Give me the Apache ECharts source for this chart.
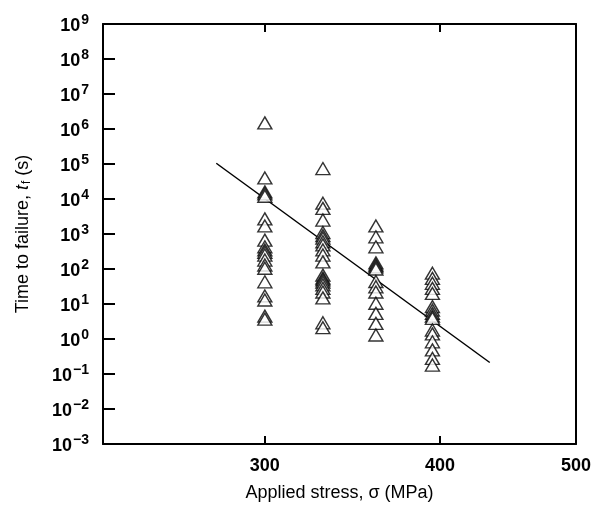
<!DOCTYPE html>
<html>
<head>
<meta charset="utf-8">
<script src="https://cdn.jsdelivr.net/npm/echarts@6.0.0/dist/echarts.min.js"></script>
<style>
  html, body { margin: 0; padding: 0; background: #fff; }
  #chart { width: 602px; height: 510px; }
</style>
</head>
<body>
<div id="chart"></div>
<script>
// stress levels (MPa) and measured times to failure (s) for each level
const stressLevels = [300, 330, 360, 395];
const times300 = [1.5e6, 4e4, 1.6e4, 1.4e4, 1.2e4, 2.7e3, 1.7e3, 670, 430, 350, 300, 250, 180, 130, 105, 43, 17, 13, 4.5, 3.7];
const times330 = [7.4e4, 7.6e3, 5.4e3, 2.5e3, 1.1e3, 900, 760, 600, 490, 350, 250, 160, 67, 55, 49, 42, 35, 28, 22, 15, 2.9, 2.1];
const times360 = [1.7e3, 830, 430, 150, 130, 115, 100, 44, 31, 22, 10.5, 5.4, 2.8, 1.3];
const times395 = [76, 54, 39, 28, 20, 8.4, 6.7, 5.4, 4.5, 3.9, 1.8, 1.4, 0.83, 0.49, 0.28, 0.18];

// fitted line end points
const fitStress = [277, 434];
const fitTime = [1.05e5, 0.213];

// axis ranges and ticks
const xMin = 230;
const xMax = 500;
const xTicks = [300, 400, 500];
const xTickMarks = [300, 400];
const yMin = 1e-3;
const yMax = 1e9;
const yTickMarks = [1e-2, 1e-1, 1e0, 1e1, 1e2, 1e3, 1e4, 1e5, 1e6, 1e7, 1e8];

const groups = [times300, times330, times360, times395];
const points = [];
groups.forEach((arr, i) => {
  arr.forEach(t => points.push([stressLevels[i], t]));
});

// inside tick marks: [x, y, side]  side 0 = left edge, 1 = bottom edge, 2 = top edge
const tickData = [];
yTickMarks.forEach(v => tickData.push([xMin, v, 0]));
xTickMarks.forEach(v => {
  tickData.push([v, yMin, 1]);
  tickData.push([v, yMax, 2]);
});

const chart = echarts.init(document.getElementById('chart'));

const font = 'Liberation Sans, Arial, sans-serif';

function powLabel(v) {
  const e = Math.round(Math.log10(v));
  return '{b|10}{e|' + String(e).replace('-', '\u2212') + '}';
}

function frameAxis(position, min, max) {
  return {
    type: 'log', logBase: 10, min: min, max: max, position: position,
    axisLine: { lineStyle: { color: '#000', width: 2 } },
    axisTick: { show: false },
    axisLabel: { show: false },
    splitLine: { show: false }
  };
}

function renderTick(params, api) {
  const p = api.coord([api.value(0), api.value(1)]);
  const side = api.value(2);
  const x = Math.round(p[0]);
  const y = Math.round(p[1]);
  let shape;
  if (side === 0) {
    shape = { x1: x, y1: y, x2: x + 12, y2: y };
  } else if (side === 1) {
    shape = { x1: x, y1: y, x2: x, y2: y - 8 };
  } else {
    shape = { x1: x, y1: y, x2: x, y2: y + 8 };
  }
  return { type: 'line', shape: shape, style: { stroke: '#000', lineWidth: 2 } };
}

chart.setOption({
  animation: false,
  grid: { left: 103, right: 26, top: 24, bottom: 66, outerBoundsMode: 'none' },
  xAxis: [
    {
      type: 'log', logBase: 10, min: xMin, max: xMax, position: 'bottom',
      name: 'Applied stress, \u03c3 (MPa)', nameLocation: 'middle', nameGap: 40,
      nameTextStyle: { fontFamily: font, fontSize: 18, color: '#000' },
      axisLine: { lineStyle: { color: '#000', width: 2 } },
      axisTick: { show: false },
      axisLabel: { customValues: xTicks, margin: 13, fontFamily: font, fontSize: 18, fontWeight: 'bold', color: '#000',
        formatter: v => String(Math.round(v)) },
      splitLine: { show: false }, minorTick: { show: false }
    },
    frameAxis('top', xMin, xMax)
  ],
  yAxis: [
    {
      type: 'log', logBase: 10, min: yMin, max: yMax, interval: 1, position: 'left',
      name: '{n|Time to failure, }{i|t}{s|f}{n| (s)}', nameLocation: 'middle', nameGap: 70, nameRotate: 90,
      nameTextStyle: {
        color: '#000',
        rich: {
          n: { fontFamily: font, fontSize: 18, color: '#000' },
          i: { fontFamily: font, fontSize: 18, fontStyle: 'italic', color: '#000' },
          s: { fontFamily: font, fontSize: 12, color: '#000', verticalAlign: 'bottom', padding: [8, 0, 0, 1] }
        }
      },
      axisLine: { lineStyle: { color: '#000', width: 2 } },
      axisTick: { show: false },
      axisLabel: {
        margin: 14, formatter: powLabel,
        rich: {
          b: { fontFamily: font, fontSize: 18, fontWeight: 'bold', color: '#000', lineHeight: 22, verticalAlign: 'bottom' },
          e: { fontFamily: font, fontSize: 14, fontWeight: 'bold', color: '#000', lineHeight: 22, verticalAlign: 'top', padding: [0, 0, 0, 1] }
        }
      },
      splitLine: { show: false }, minorTick: { show: false }
    },
    frameAxis('right', yMin, yMax)
  ],
  series: [
    {
      type: 'custom',
      data: tickData,
      renderItem: renderTick,
      encode: { x: 0, y: 1 },
      silent: true,
      z: 5
    },
    {
      type: 'line',
      data: fitStress.map((s, i) => [s, fitTime[i]]),
      showSymbol: false, symbol: 'none',
      lineStyle: { color: '#000', width: 1.5 },
      z: 2
    },
    {
      type: 'scatter',
      data: points,
      symbol: 'triangle', symbolSize: [14, 12],
      itemStyle: { color: '#fff', borderColor: '#000', borderWidth: 1.4 },
      z: 3
    }
  ]
});
</script>
</body>
</html>
